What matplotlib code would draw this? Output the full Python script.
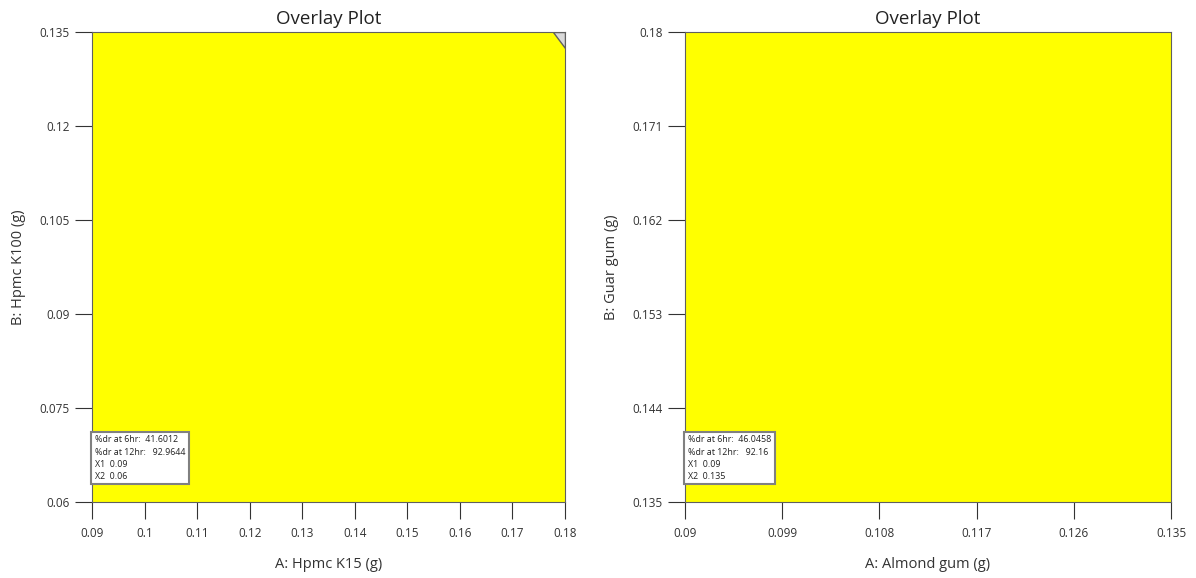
import matplotlib.pyplot as plt
from matplotlib.patches import Polygon

plt.rcParams['font.family'] = ['Open Sans', 'DejaVu Sans']

# left panel
left_xticks = [0.09, 0.1, 0.11, 0.12, 0.13, 0.14, 0.15, 0.16, 0.17, 0.18]
left_yticks = [0.06, 0.075, 0.09, 0.105, 0.12, 0.135]
left_xlabels = ['0.09', '0.1', '0.11', '0.12', '0.13', '0.14', '0.15', '0.16', '0.17', '0.18']
left_ylabels = ['0.06', '0.075', '0.09', '0.105', '0.12', '0.135']
left_grey_x = [0.1777, 0.18, 0.18]
left_grey_y = [0.135, 0.135, 0.1324]
left_flag = ['%dr at 6hr:  41.6012', '%dr at 12hr:   92.9644', 'X1  0.09', 'X2  0.06']

# right panel
right_xticks = [0.09, 0.099, 0.108, 0.117, 0.126, 0.135]
right_yticks = [0.135, 0.144, 0.153, 0.162, 0.171, 0.18]
right_xlabels = ['0.09', '0.099', '0.108', '0.117', '0.126', '0.135']
right_ylabels = ['0.135', '0.144', '0.153', '0.162', '0.171', '0.18']
right_flag = ['%dr at 6hr:  46.0458', '%dr at 12hr:   92.16', 'X1  0.09', 'X2  0.135']

fig = plt.figure(figsize=(11.96, 5.78), dpi=100)
ax1 = fig.add_axes([92 / 1196, 1 - 502 / 578, 473 / 1196, 470 / 578])
ax2 = fig.add_axes([685 / 1196, 1 - 502 / 578, 486 / 1196, 470 / 578])


def draw(ax, xt, yt, xl, yl, xlabel, ylabel, flag, grey=None):
    ax.set_xlim(xt[0], xt[-1])
    ax.set_ylim(yt[0], yt[-1])
    ax.set_facecolor('#ffff00')
    if grey is not None:
        ax.add_patch(Polygon(list(zip(*grey)), closed=True, facecolor='#d9d9d9',
                             edgecolor='#606060', lw=1, zorder=2))
    ax.set_xticks(xt)
    ax.set_xticklabels(xl)
    ax.set_yticks(yt)
    ax.set_yticklabels(yl)
    ax.tick_params(direction='out', length=12, width=0.8, labelsize=8.5,
                   colors='#333333', pad=4)
    ax.tick_params(axis='x', pad=6)
    for s in ax.spines.values():
        s.set_color('#606060')
    ax.set_xlabel(xlabel, fontsize=10.5, color='#333333', labelpad=12)
    ax.set_ylabel(ylabel, fontsize=10.5, color='#333333', labelpad=10)
    ax.set_title('Overlay Plot', fontsize=13.5, color='#222222', pad=6)
    ax.text(0.006, 0.045, '\n'.join(flag), transform=ax.transAxes, fontsize=6.4,
            va='bottom', ha='left', color='#222222', linespacing=1.45,
            bbox=dict(boxstyle='square,pad=0.4', facecolor='white',
                      edgecolor='#808080', lw=1.5), zorder=5)


draw(ax1, left_xticks, left_yticks, left_xlabels, left_ylabels,
     'A: Hpmc K15 (g)', 'B: Hpmc K100 (g)', left_flag,
     grey=(left_grey_x, left_grey_y))
draw(ax2, right_xticks, right_yticks, right_xlabels, right_ylabels,
     'A: Almond gum (g)', 'B: Guar gum (g)', right_flag)

fig.savefig('out.png', dpi=100)
